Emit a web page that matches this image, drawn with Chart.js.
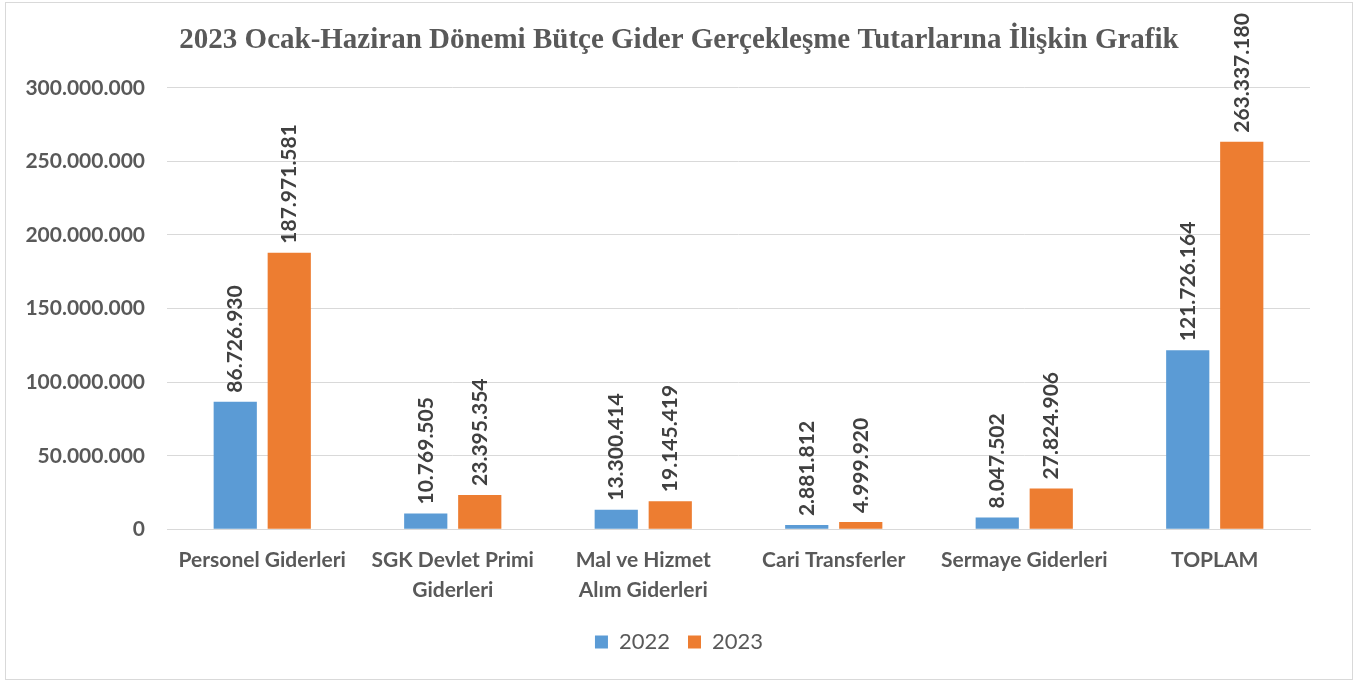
<!DOCTYPE html>
<html>
<head>
<meta charset="utf-8">
<script src="https://cdn.jsdelivr.net/npm/chart.js@4"></script>
<style>
  body { margin: 0; background: #fff; }
  #kutu { position: absolute; left: 5px; top: 2px; width: 1346px; height: 676px; border: 1px solid #d9d9d9; }
</style>
</head>
<body>
<div id="kutu"><canvas id="myChart" width="1346" height="676"></canvas></div>
<script>
var kategoriler = ['Personel Giderleri', ['SGK Devlet Primi', 'Giderleri'], ['Mal ve Hizmet', 'Alım Giderleri'], 'Cari Transferler', 'Sermaye Giderleri', 'TOPLAM'];
var giderler2022 = [86726930, 10769505, 13300414, 2881812, 8047502, 121726164];
var giderler2023 = [187971581, 23395354, 19145419, 4999920, 27824906, 263337180];
var yEksenMax = 300000000;
var yEksenAdim = 50000000;

function noktaliSayi(v) {
  return String(Math.round(v)).replace(/\B(?=(\d{3})+(?!\d))/g, '.');
}

// bar ustune dikey yazilan degerler
var degerEtiketleri = {
  id: 'degerEtiketleri',
  afterDatasetsDraw: function(chart) {
    var ctx = chart.ctx;
    chart.data.datasets.forEach(function(ds, i) {
      var meta = chart.getDatasetMeta(i);
      meta.data.forEach(function(bar, j) {
        ctx.save();
        ctx.translate(bar.x, bar.y - 9);
        ctx.rotate(-Math.PI / 2);
        ctx.font = 'bold 21px Lato';
        ctx.fillStyle = '#404040';
        ctx.textAlign = 'left';
        ctx.textBaseline = 'middle';
        ctx.fillText(noktaliSayi(ds.data[j]), 0, 0);
        ctx.restore();
      });
    });
  }
};

var ctx = document.getElementById('myChart').getContext('2d');
var myChart = new Chart(ctx, {
  type: 'bar',
  data: {
    labels: kategoriler,
    datasets: [{
      label: '2022',
      data: giderler2022,
      backgroundColor: '#5b9bd5',
      categoryPercentage: 0.567,
      barPercentage: 0.8
    }, {
      label: '2023',
      data: giderler2023,
      backgroundColor: '#ed7d31',
      categoryPercentage: 0.567,
      barPercentage: 0.8
    }]
  },
  options: {
    responsive: false,
    animation: false,
    layout: { padding: { left: 0, right: 0, bottom: 16 } },
    plugins: {
      title: {
        display: true,
        text: '2023 Ocak-Haziran Dönemi Bütçe Gider Gerçekleşme Tutarlarına İlişkin Grafik',
        color: '#595959',
        font: { family: 'Liberation Serif', size: 29, weight: 'bold' },
        padding: { top: 20, bottom: 30 }
      },
      legend: {
        position: 'bottom',
        labels: {
          color: '#595959',
          font: { family: 'Lato', size: 22 },
          boxWidth: 13,
          boxHeight: 13,
          padding: 18
        }
      },
      tooltip: { enabled: false }
    },
    scales: {
      x: {
        grid: { display: false },
        border: { color: '#d9d9d9' },
        ticks: {
          color: '#595959',
          font: { family: 'Lato', size: 21, weight: 'bold', lineHeight: 1.42 },
          maxRotation: 0,
          autoSkip: false,
          padding: 8
        }
      },
      y: {
        min: 0,
        max: yEksenMax,
        grid: { color: '#d9d9d9', drawTicks: false },
        border: { display: false },
        afterFit: function(s) { s.width = 161; },
        ticks: {
          stepSize: yEksenAdim,
          color: '#595959',
          font: { family: 'Lato', size: 21, weight: 'bold' },
          padding: 22,
          callback: function(v) { return noktaliSayi(v); }
        }
      },
      bosluk: {
        position: 'right',
        grid: { display: false },
        border: { display: false },
        ticks: { display: false },
        afterFit: function(s) { s.width = 42; }
      }
    }
  },
  plugins: [degerEtiketleri]
});
</script>
</body>
</html>
